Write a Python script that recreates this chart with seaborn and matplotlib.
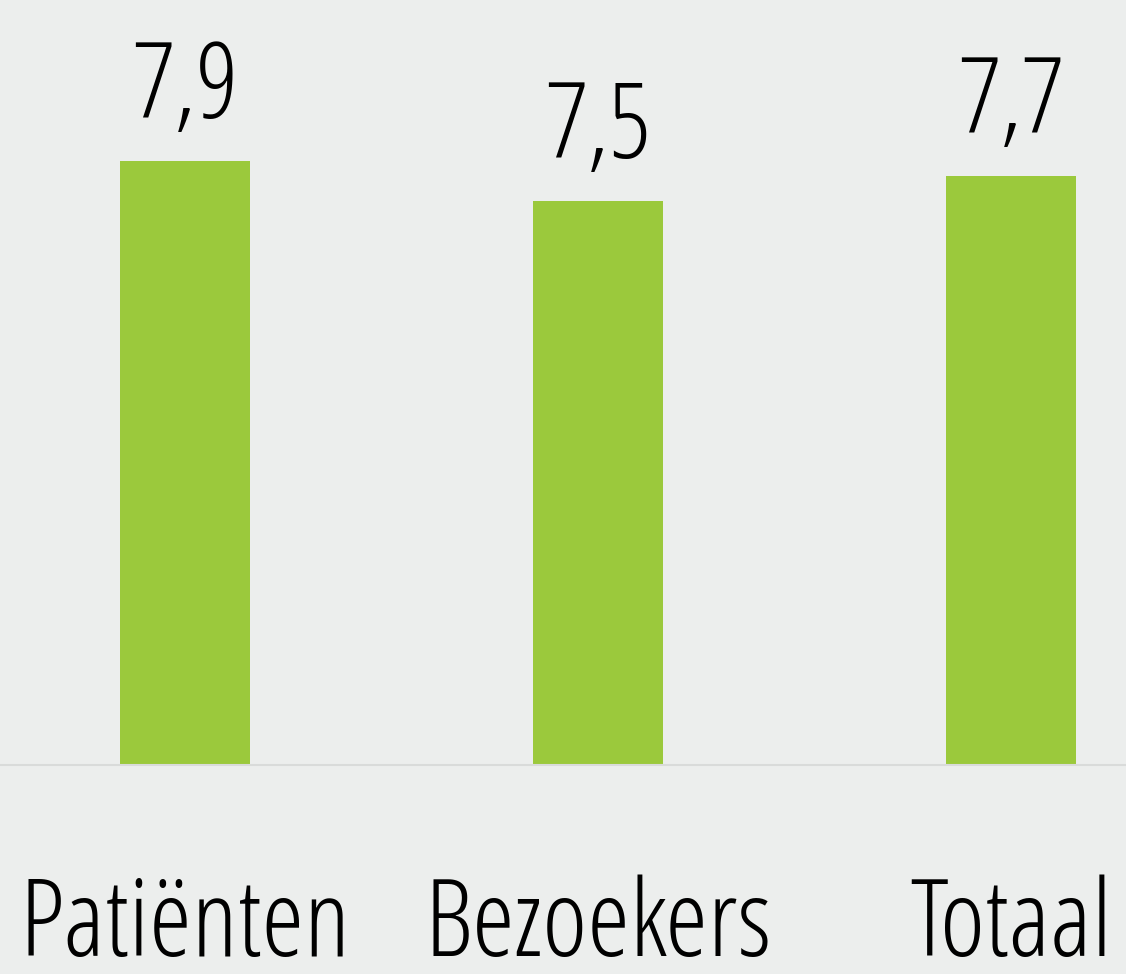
import pandas as pd
import seaborn as sns
import matplotlib.pyplot as plt
from matplotlib import font_manager

categories = ["Patiënten", "Bezoekers", "Totaal"]
# bar heights (the middle bar is drawn lower than its label)
scores = [7.9, 7.37, 7.7]
value_labels = ["7,9", "7,5", "7,7"]

df = pd.DataFrame({"groep": categories, "score": scores})

# find a condensed font, closest to the original look
fonts = font_manager.fontManager.ttflist
font_props = dict(family="DejaVu Sans", fontstretch="condensed", fontweight="light")
cands = [f for f in fonts if f.name == "Open Sans" and f.stretch in ("condensed", "semi-condensed", "extra-condensed")]
if cands:
    font_props = dict(family="Open Sans", fontstretch=cands[0].stretch, fontweight="light")
elif any(f.name == "Liberation Sans Narrow" for f in fonts):
    font_props = dict(family="Liberation Sans Narrow", fontweight="normal")

bg = "#ECEEED"
sns.set_style("white", {"axes.facecolor": bg, "figure.facecolor": bg})

fig = plt.figure(figsize=(11.26, 9.74), dpi=100)
ax = fig.add_axes([0, 1 - 765 / 974, 1, 765 / 974])

sns.barplot(data=df, x="groep", y="score", color="#9BC93C", width=0.315,
            saturation=1, linewidth=0, ax=ax)

ax.set_ylim(0, 10)
ax.set_xlim(-0.448, 2.278)
ax.set_xticks([])
ax.set_yticks([])
ax.set_xlabel("")
ax.set_ylabel("")
for s in ["top", "left", "right"]:
    ax.spines[s].set_visible(False)
ax.spines["bottom"].set_color("#D9DBDA")
ax.spines["bottom"].set_linewidth(1.5)

for i, (v, lab) in enumerate(zip(scores, value_labels)):
    ax.annotate(lab, xy=(i, v), xytext=(0, 43), textcoords="offset pixels",
                ha="center", va="baseline", fontsize=76, color="black",
                annotation_clip=False, **font_props)
    ax.annotate(categories[i], xy=(i, 0), xytext=(0, -191), textcoords="offset pixels",
                ha="center", va="baseline", fontsize=78, color="black",
                annotation_clip=False, **font_props)

fig.savefig("out.png", dpi=100, facecolor=bg)
